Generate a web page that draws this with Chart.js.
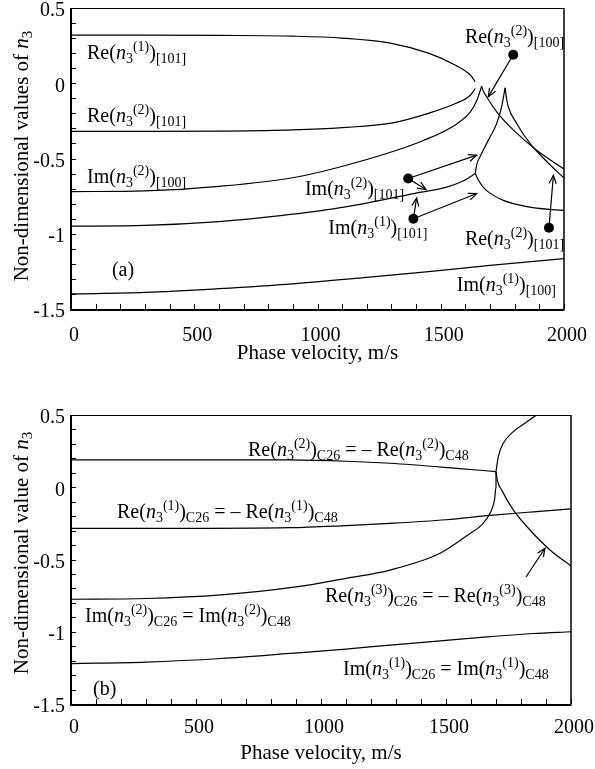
<!DOCTYPE html>
<html>
<head>
<meta charset="utf-8">
<script src="https://cdn.jsdelivr.net/npm/chart.js@4.4.0/dist/chart.umd.min.js"></script>
<style>
  body { margin: 0; background: #fff; }
  #fig { position: relative; width: 595px; height: 769px; }
  canvas { position: absolute; left: 0; }
</style>
</head>
<body>
<div id="fig">
  <canvas id="grafA" width="595" height="380" style="top:0"></canvas>
  <canvas id="grafB" width="595" height="389" style="top:380px"></canvas>
</div>
<script>
// Etiquetas de los ejes
const etiquetasX = [0, 500, 1000, 1500, 2000];
const etiquetasY = [0.5, 0, -0.5, -1, -1.5];

// Panel (a): puntos [velocidad de fase m/s, valor de n3]
const reA1_101 = [[0,0.32],[300,0.32],[600,0.318],[900,0.313],[1100,0.30],[1300,0.265],[1450,0.20],[1560,0.12],[1620,0.055],[1640,0.01]];
const reA2_101 = [[0,-0.32],[300,-0.32],[600,-0.318],[900,-0.31],[1100,-0.295],[1300,-0.265],[1450,-0.20],[1560,-0.135],[1620,-0.08],[1640,-0.035]];
const imA2_100 = [[0,-0.72],[300,-0.715],[600,-0.685],[900,-0.628],[1150,-0.53],[1430,-0.38],[1565,-0.27],[1620,-0.19],[1645,-0.12],[1658,-0.06],[1666,-0.02]];
const reA2_100 = [[1666,-0.02],[1672,-0.05],[1686,-0.09],[1727,-0.19],[1794,-0.31],[1889,-0.445],[2000,-0.57]];
const imA_101 = [[0,-0.95],[300,-0.945],[600,-0.92],[850,-0.88],[1120,-0.82],[1390,-0.733],[1524,-0.69],[1590,-0.65],[1640,-0.60]];
const imA2_101 = [[1640,-0.60],[1646,-0.54],[1659,-0.49],[1693,-0.378],[1727,-0.267],[1747,-0.156],[1761,-0.03]];
const reA2_101b = [[1761,-0.03],[1766,-0.09],[1774,-0.156],[1808,-0.267],[1862,-0.40],[1930,-0.52],[2000,-0.63]];
const imA1_101 = [[1640,-0.60],[1655,-0.65],[1672,-0.69],[1700,-0.73],[1754,-0.778],[1850,-0.82],[1950,-0.84],[2000,-0.845]];
const imA1_100 = [[0,-1.40],[300,-1.39],[600,-1.365],[900,-1.333],[1200,-1.29],[1430,-1.255],[1700,-1.21],[2000,-1.165]];

// Panel (b)
const reB2 = [[0,0.19],[300,0.19],[600,0.19],[876,0.189],[1100,0.18],[1276,0.166],[1543,0.131],[1700,0.108]];
const reB2sup = [[1700,0.108],[1709,0.211],[1729,0.304],[1769,0.385],[1816,0.443],[1863,0.5],[1900,0.53]];
const reB3 = [[1700,0.108],[1705,0.05],[1723,-0.02],[1769,-0.157],[1836,-0.296],[1916,-0.434],[2000,-0.545]];
const imB2 = [[0,-0.775],[300,-0.77],[600,-0.745],[900,-0.69],[1100,-0.63],[1276,-0.573],[1476,-0.457],[1596,-0.32],[1643,-0.26],[1676,-0.18],[1694,-0.088],[1700,0.0],[1700,0.108]];
const reB1 = [[0,-0.285],[400,-0.285],[876,-0.28],[1100,-0.265],[1276,-0.25],[1500,-0.225],[1676,-0.195],[1850,-0.17],[2000,-0.15]];
const imB1 = [[0,-1.22],[300,-1.21],[600,-1.185],[876,-1.15],[1100,-1.12],[1276,-1.092],[1500,-1.06],[1676,-1.034],[1850,-1.012],[2000,-1.0]];

const SERIF = '"Liberation Serif", "Times New Roman", serif';

// Texto con n cursiva, subíndices y superíndices
function etiquetaN(fn, sup, sub) {
  return [[fn + '(', 'n'], ['n', 'i'], ['3', 'sub'], ['(' + sup + ')', 'sup'], [')', 'n'], [sub, 'sub']];
}
function igualdad(fn, sup, neg) {
  return [...etiquetaN(fn, sup, 'C26'), [neg ? ' = \u2013 ' : ' = ', 'n'], ...etiquetaN(fn, sup, 'C48')];
}

function fuente(est, tam) {
  if (est === 'i') return `italic ${tam}px ${SERIF}`;
  if (est === 'sub' || est === 'sup') return `${Math.round(tam * 0.7)}px ${SERIF}`;
  return `${tam}px ${SERIF}`;
}
function medirRico(ctx, partes, tam) {
  let w = 0;
  partes.forEach(([t, est]) => { ctx.font = fuente(est, tam); w += ctx.measureText(t).width; });
  return w;
}
function dibujarRico(ctx, partes, x, y, tam) {
  let cx = x;
  partes.forEach(([t, est]) => {
    ctx.font = fuente(est, tam);
    const dy = est === 'sub' ? tam * 0.2 : est === 'sup' ? -tam * 0.4 : 0;
    ctx.fillText(t, cx, y + dy);
    cx += ctx.measureText(t).width;
  });
}

function flecha(ctx, x1, y1, x2, y2) {
  ctx.beginPath(); ctx.moveTo(x1, y1); ctx.lineTo(x2, y2); ctx.stroke();
  const a = Math.atan2(y2 - y1, x2 - x1), L = 9, w = 0.4;
  ctx.beginPath();
  ctx.moveTo(x2 - L * Math.cos(a - w), y2 - L * Math.sin(a - w));
  ctx.lineTo(x2, y2);
  ctx.lineTo(x2 - L * Math.cos(a + w), y2 - L * Math.sin(a + w));
  ctx.stroke();
}

// Marco, marcas internas, rótulos y flechas
function crearNotas(cfg) {
  return {
    id: 'notas',
    afterDatasetsDraw(chart) {
      const ctx = chart.ctx;
      const { left, right, top, bottom } = chart.chartArea;
      const sx = chart.scales.x, sy = chart.scales.y;
      ctx.save();
      ctx.strokeStyle = '#000';
      ctx.fillStyle = '#000';

      ctx.lineWidth = 1;
      ctx.beginPath(); ctx.moveTo(left, top + 0.5); ctx.lineTo(right, top + 0.5); ctx.stroke();
      ctx.lineWidth = 1.5;
      ctx.beginPath(); ctx.moveTo(right, top); ctx.lineTo(right, bottom); ctx.stroke();
      ctx.lineWidth = 2;
      ctx.beginPath(); ctx.moveTo(left, top); ctx.lineTo(left, bottom + 1); ctx.lineTo(right + 0.5, bottom + 1); ctx.stroke();

      ctx.lineWidth = 1;
      sx.ticks.forEach(t => {
        const px = Math.round(sx.getPixelForValue(t.value)) + 0.5;
        ctx.beginPath(); ctx.moveTo(px, bottom); ctx.lineTo(px, bottom - 5); ctx.stroke();
      });
      sy.ticks.forEach(t => {
        const py = Math.round(sy.getPixelForValue(t.value)) + 0.5;
        ctx.beginPath(); ctx.moveTo(left, py); ctx.lineTo(left + 5, py); ctx.stroke();
      });

      ctx.textBaseline = 'alphabetic';
      ctx.textAlign = 'left';
      cfg.rotulos.forEach(r => {
        dibujarRico(ctx, r.partes, sx.getPixelForValue(r.v), sy.getPixelForValue(r.n), 20);
      });

      ctx.lineWidth = 1.2;
      (cfg.flechas || []).forEach(f => {
        flecha(ctx, sx.getPixelForValue(f[0]), sy.getPixelForValue(f[1]),
                    sx.getPixelForValue(f[2]), sy.getPixelForValue(f[3]));
      });
      (cfg.puntos || []).forEach(p => {
        ctx.beginPath();
        ctx.arc(sx.getPixelForValue(p[0]), sy.getPixelForValue(p[1]), 5, 0, Math.PI * 2);
        ctx.fill();
      });

      // título vertical
      ctx.translate(28, cfg.tituloYc);
      ctx.rotate(-Math.PI / 2);
      const w = medirRico(ctx, cfg.tituloY, 21);
      dibujarRico(ctx, cfg.tituloY, -w / 2, 0, 21);
      ctx.restore();
    }
  };
}

function crearGrafico(id, series, cfg) {
  return new Chart(document.getElementById(id), {
    type: 'line',
    data: {
      datasets: series.map(pts => ({
        data: pts.map(([x, y]) => ({ x, y })),
        borderColor: '#000',
        borderWidth: 1.2,
        pointRadius: 0,
        cubicInterpolationMode: 'monotone',
        fill: false
      }))
    },
    options: {
      responsive: false,
      animation: false,
      devicePixelRatio: 1,
      layout: { padding: cfg.padding },
      plugins: { legend: { display: false }, tooltip: { enabled: false } },
      scales: {
        x: {
          type: 'linear', min: 0, max: 2000,
          border: { display: false },
          grid: { display: false, drawTicks: false },
          ticks: {
            stepSize: 100, autoSkip: false, maxRotation: 0, padding: cfg.padTicksX, labelOffset: 3,
            color: '#000', font: { family: SERIF, size: 20 },
            callback: v => etiquetasX.includes(v) ? String(v) : ''
          },
          title: {
            display: true, text: 'Phase velocity, m/s', color: '#000',
            font: { family: SERIF, size: 21 }, padding: { top: 0, bottom: cfg.padTituloX }
          },
          afterFit: s => { s.height = cfg.altoX; s.paddingLeft = 0; s.paddingRight = 0; }
        },
        y: {
          type: 'linear', min: -1.5, max: 0.5,
          border: { display: false },
          grid: { display: false, drawTicks: false },
          ticks: {
            stepSize: 0.1, autoSkip: false, padding: 6, labelOffset: 3,
            color: '#000', font: { family: SERIF, size: 20 },
            callback: v => { const r = Math.round(v * 10) / 10; return etiquetasY.includes(r) ? String(r) : ''; }
          },
          afterFit: s => { s.width = 71; s.paddingTop = 0; s.paddingBottom = 0; }
        }
      }
    },
    plugins: [crearNotas(cfg)]
  });
}

crearGrafico('grafA',
  [reA1_101, reA2_101, imA2_100, reA2_100, imA_101, imA2_101, reA2_101b, imA1_101, imA1_100],
  {
    padding: { top: 8, right: 31, bottom: 0, left: 0 },
    altoX: 71, padTicksX: 15, padTituloX: 14,
    tituloY: [['Non-dimensional values of ', 'n'], ['n', 'i'], ['3', 'sub']],
    tituloYc: 156,
    rotulos: [
      { partes: etiquetaN('Re', 1, '[101]'), v: 65, n: 0.162 },
      { partes: etiquetaN('Re', 2, '[101]'), v: 65, n: -0.256 },
      { partes: etiquetaN('Im', 2, '[100]'), v: 65, n: -0.662 },
      { partes: [['(a)', 'n']], v: 166, n: -1.284 },
      { partes: etiquetaN('Im', 2, '[101]'), v: 949, n: -0.744 },
      { partes: etiquetaN('Im', 1, '[101]'), v: 1044, n: -1.0 },
      { partes: etiquetaN('Re', 2, '[100]'), v: 1598, n: 0.267 },
      { partes: etiquetaN('Re', 2, '[101]'), v: 1598, n: -1.078 },
      { partes: etiquetaN('Im', 1, '[100]'), v: 1565, n: -1.378 }
    ],
    flechas: [
      [1794, 0.189, 1693, -0.089],
      [1368, -0.633, 1646, -0.478],
      [1368, -0.633, 1440, -0.706],
      [1389, -0.9, 1402, -0.762],
      [1389, -0.9, 1646, -0.733],
      [1939, -0.96, 1957, -0.611]
    ],
    puntos: [[1794, 0.189], [1368, -0.633], [1389, -0.9], [1939, -0.96]]
  });

crearGrafico('grafB',
  [reB2, reB2sup, reB3, imB2, reB1, imB1],
  {
    padding: { top: 35, right: 24, bottom: 0, left: 0 },
    altoX: 65, padTicksX: 12, padTituloX: 3,
    tituloY: [['Non-dimensional value of ', 'n'], ['n', 'i'], ['3', 'sub']],
    tituloYc: 173,
    rotulos: [
      { partes: igualdad('Re', 2, true), v: 708, n: 0.216 },
      { partes: igualdad('Re', 1, true), v: 184, n: -0.212 },
      { partes: igualdad('Re', 3, true), v: 1016, n: -0.794 },
      { partes: igualdad('Im', 2, false), v: 56, n: -0.932 },
      { partes: igualdad('Im', 1, false), v: 1088, n: -1.299 },
      { partes: [['(b)', 'n']], v: 88, n: -1.438 }
    ],
    flechas: [[1820, -0.621, 1896, -0.422]]
  });
</script>
</body>
</html>
